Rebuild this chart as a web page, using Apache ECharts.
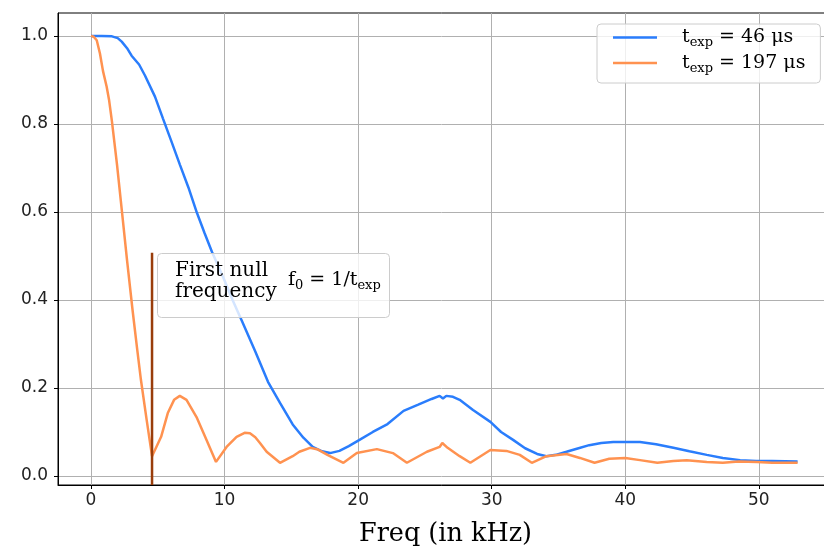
<!DOCTYPE html>
<html>
<head>
<meta charset="utf-8">
<script src="https://cdn.jsdelivr.net/npm/echarts@6/dist/echarts.min.js"></script>
<style>
  html, body { margin: 0; padding: 0; background: #fff; }
  #chart { width: 824px; height: 557px; }
</style>
</head>
<body>
<div id="chart"></div>
<script>
// normalised response, t_exp = 46 us
const freq46 = [0, 0.8, 1.57, 2.0, 2.3, 2.7, 3.04, 3.6, 4.04, 4.79, 5.39, 6.0, 6.66, 7.3, 7.93, 8.5, 9.06, 9.96, 10.6, 11.3,
  12.3, 13.25, 14.15, 15.1, 15.9, 16.6, 17.3, 17.9, 18.6, 19.3, 20.1, 21.1, 22.2, 23.4, 24.5, 25.5, 26.1, 26.35, 26.6, 27.1,
  27.6, 28.6, 29.9, 30.7, 31.6, 32.5, 33.4, 34.1, 34.8, 35.6, 36.5, 37.3, 38.2, 39.1, 40.1, 41.1, 42.3, 43.6, 44.8, 46.1,
  47.3, 48.6, 49.8, 51.0, 52.9];
const resp46 = [1.0, 1.0, 0.999, 0.995, 0.987, 0.972, 0.955, 0.935, 0.91, 0.862, 0.812, 0.762, 0.707, 0.655, 0.598, 0.552, 0.509, 0.447, 0.40, 0.352,
  0.283, 0.214, 0.166, 0.117, 0.087, 0.066, 0.056, 0.052, 0.057, 0.068, 0.082, 0.1, 0.118, 0.148, 0.162, 0.175, 0.182, 0.176, 0.182, 0.18,
  0.173, 0.15, 0.123, 0.1, 0.082, 0.063, 0.05, 0.045, 0.048, 0.055, 0.063, 0.07, 0.075, 0.077, 0.077, 0.077, 0.072, 0.064, 0.056, 0.048,
  0.041, 0.036, 0.034, 0.034, 0.033];

// normalised response, t_exp = 197 us
const freq197 = [0, 0.2, 0.43, 0.67, 0.9, 1.17, 1.35, 1.57, 1.95, 2.32, 2.7, 3.1, 3.45, 3.74, 4.17, 4.57, 5.25, 5.75, 6.22, 6.65,
  7.15, 7.9, 8.65, 9.36, 10.15, 10.9, 11.5, 11.9, 12.3, 12.65, 13.15, 14.15, 15.1, 15.6, 16.4, 17.0, 17.7, 18.9, 19.9, 21.4,
  22.6, 23.65, 25.15, 26.1, 26.3, 26.7, 27.6, 28.4, 29.9, 31.1, 32.1, 33.0, 34.1, 35.6, 36.6, 37.7, 38.8, 40.0, 41.1, 42.4,
  43.6, 44.6, 46.1, 47.3, 48.5, 49.85, 51.0, 52.9];
const resp197 = [1.0, 0.998, 0.99, 0.96, 0.92, 0.885, 0.855, 0.805, 0.707, 0.6, 0.49, 0.38, 0.29, 0.218, 0.127, 0.045, 0.089, 0.143, 0.173, 0.182,
  0.173, 0.134, 0.082, 0.032, 0.066, 0.089, 0.098, 0.097, 0.088, 0.075, 0.055, 0.03, 0.045, 0.055, 0.064, 0.06, 0.048, 0.03, 0.052, 0.061,
  0.052, 0.03, 0.055, 0.066, 0.075, 0.064, 0.045, 0.03, 0.059, 0.057, 0.048, 0.03, 0.045, 0.05, 0.041, 0.03, 0.039, 0.041, 0.036, 0.03,
  0.034, 0.036, 0.032, 0.03, 0.033, 0.032, 0.03, 0.03];

const legendTimes = ["46", "197"];
const xTicks = [0, 10, 20, 30, 40, 50];
const yTicks = [0, 0.2, 0.4, 0.6, 0.8, 1.0];
// first null marker
const nullFreq = 4.57;
const nullTop = 0.507;

const xMin = -2.47, xMax = 55.55;
const yMin = -0.0205, yMax = 1.052;

const serif = '"DejaVu Serif", serif';
const zip = (xs, ys) => xs.map((x, i) => [x, ys[i]]);

const chart = echarts.init(document.getElementById("chart"));

const subRich = {
  m: { fontFamily: serif, fontSize: 19, lineHeight: 24, color: "#000" },
  s: { fontFamily: serif, fontSize: 13, lineHeight: 13, verticalAlign: "bottom", color: "#000" },
};

chart.setOption({
  animation: false,
  grid: {
    left: 58, top: 13, right: -9, bottom: 72,
    outerBoundsMode: "none",
    show: true, borderColor: "#000", borderWidth: 1,
  },
  legend: {
    orient: "vertical",
    left: 597, top: 24,
    padding: [4, 15, 8, 16],
    itemGap: 4,
    itemWidth: 44, itemHeight: 2.5,
    icon: "rect",
    backgroundColor: "rgba(255,255,255,0.8)",
    borderColor: "#cccccc", borderWidth: 1, borderRadius: 4,
    data: legendTimes.map((t) => t + " μs"),
    formatter: (name) => "{m|t}{s|exp}{m| = " + name + "}",
    textStyle: { padding: [0, 0, 0, 20], rich: subRich },
  },
  xAxis: {
    type: "value",
    min: xMin, max: xMax, splitNumber: 5,
    name: "Freq (in kHz)",
    nameLocation: "middle",
    nameGap: 36,
    nameTextStyle: { fontFamily: serif, fontSize: 25.5, color: "#000" },
    axisLine: { show: true, onZero: false, lineStyle: { color: "#000", width: 1 } },
    axisTick: { show: true, length: 4, customValues: xTicks, lineStyle: { color: "#000" } },
    axisLabel: {
      customValues: xTicks, margin: 7,
      fontFamily: "DejaVu Sans", fontSize: 17, color: "#222",
      formatter: (v) => String(v),
    },
    splitLine: { show: true, lineStyle: { color: "#b0b0b0", width: 1 } },
  },
  yAxis: {
    type: "value",
    min: yMin, max: yMax, splitNumber: 5,
    axisLine: { show: true, onZero: false, lineStyle: { color: "#000", width: 1 } },
    axisTick: { show: true, length: 4, customValues: yTicks, lineStyle: { color: "#000" } },
    axisLabel: {
      customValues: yTicks, margin: 10,
      fontFamily: "DejaVu Sans", fontSize: 17, color: "#222",
      formatter: (v) => v.toFixed(1),
    },
    splitLine: { show: true, lineStyle: { color: "#b0b0b0", width: 1 } },
  },
  series: [
    {
      name: legendTimes[0] + " μs",
      type: "line",
      data: zip(freq46, resp46),
      showSymbol: false,
      color: "#2a7dfc",
      lineStyle: { width: 2.5 },
      z: 3,
    },
    {
      name: legendTimes[1] + " μs",
      type: "line",
      data: zip(freq197, resp197),
      showSymbol: false,
      color: "#ff9250",
      lineStyle: { width: 2.5 },
      z: 4,
    },
    {
      name: "first null",
      type: "line",
      data: [[nullFreq, yMin], [nullFreq, nullTop]],
      showSymbol: false,
      color: "#993d0b",
      lineStyle: { width: 2.5 },
      z: 5,
    },
  ],
  graphic: [
    {
      type: "rect", left: 157, top: 253, z: 100,
      shape: { width: 232, height: 64, r: 4 },
      style: { fill: "rgba(255,255,255,0.8)", stroke: "#cccccc", lineWidth: 1 },
    },
    {
      type: "text", left: 175, top: 260, z: 101,
      style: { text: "First null\nfrequency", fontFamily: serif, fontSize: 20, lineHeight: 21, fill: "#000" },
    },
    {
      type: "text", left: 288, top: 271, z: 101,
      style: { text: "{m|f}{s|0}{m| = 1/t}{s|exp}", rich: subRich },
    },
  ],
});
</script>
</body>
</html>
